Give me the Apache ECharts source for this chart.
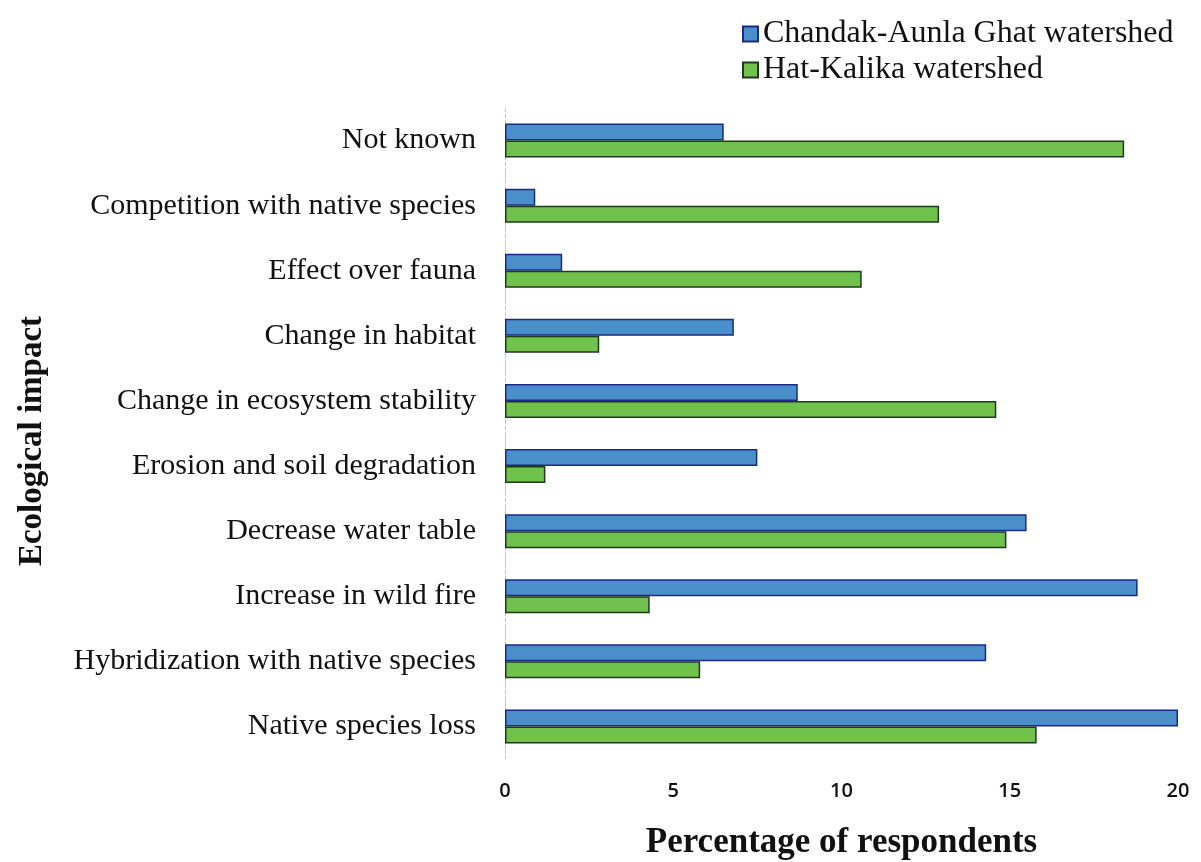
<!DOCTYPE html>
<html>
<head>
<meta charset="utf-8">
<script src="https://cdn.jsdelivr.net/npm/echarts@6/dist/echarts.min.js"></script>
<style>
    html, body { margin: 0; padding: 0; background: #fff; }
    #chart { width: 1201px; height: 862px; }
</style>
</head>
<body>
<div id="chart"></div>
<script>
const categories = [
    'Not known',
    'Competition with native species',
    'Effect over fauna',
    'Change in habitat',
    'Change in ecosystem stability',
    'Erosion and soil degradation',
    'Decrease water table',
    'Increase in wild fire',
    'Hybridization with native species',
    'Native species loss'
];
const chandakValues = [6.5, 0.9, 1.7, 6.8, 8.7, 7.5, 15.5, 18.8, 14.3, 20.0];
const hatKalikaValues = [18.4, 12.9, 10.6, 2.8, 14.6, 1.2, 14.9, 4.3, 5.8, 15.8];
const xTicks = [0, 5, 10, 15, 20];

const serif = '"Liberation Serif", "DejaVu Serif", serif';

const chart = echarts.init(document.getElementById('chart'));
chart.setOption({
    animation: false,
    legend: {
        orient: 'vertical',
        left: 737,
        top: 13,
        icon: 'rect',
        itemWidth: 15,
        itemHeight: 15,
        itemGap: 4,
        textStyle: { fontFamily: serif, fontSize: 32, color: '#111' },
        data: ['Chandak-Aunla Ghat watershed', 'Hat-Kalika watershed']
    },
    grid: {
        left: 505,
        right: 23,
        top: 108,
        bottom: 103,
        containLabel: false,
        outerBoundsMode: 'none'
    },
    xAxis: {
        type: 'value',
        min: xTicks[0],
        max: xTicks[xTicks.length - 1],
        interval: 5,
        axisLine: { show: false },
        axisTick: { show: false },
        splitLine: { show: false },
        axisLabel: {
            margin: 22,
            fontFamily: '"Open Sans", sans-serif',
            fontWeight: 600,
            fontSize: 20,
            color: '#111'
        },
        name: 'Percentage of respondents',
        nameLocation: 'middle',
        nameGap: 66,
        nameTextStyle: { fontFamily: serif, fontWeight: 'bold', fontSize: 35, color: '#111' }
    },
    yAxis: {
        type: 'category',
        inverse: true,
        data: categories,
        axisLine: { show: true, lineStyle: { color: '#c8c8c8', type: 'dashed', width: 1 } },
        axisTick: { show: false },
        axisLabel: {
            margin: 29,
            fontFamily: serif,
            fontSize: 30,
            color: '#111'
        },
        name: 'Ecological impact',
        nameLocation: 'middle',
        nameGap: 456,
        nameRotate: 90,
        nameTextStyle: {
            fontFamily: serif,
            fontWeight: 'bold',
            fontSize: 33,
            color: '#111',
            padding: [0, 15, 0, 0]
        }
    },
    series: [
        {
            name: 'Chandak-Aunla Ghat watershed',
            type: 'bar',
            data: chandakValues,
            barWidth: 17,
            barGap: '0%',
            itemStyle: { color: '#4a8fc9', borderColor: '#1b2a86', borderWidth: 1.5 }
        },
        {
            name: 'Hat-Kalika watershed',
            type: 'bar',
            data: hatKalikaValues,
            barWidth: 17,
            barGap: '0%',
            itemStyle: { color: '#70c24d', borderColor: '#1e3a1e', borderWidth: 1.5 }
        }
    ]
});
</script>
</body>
</html>
